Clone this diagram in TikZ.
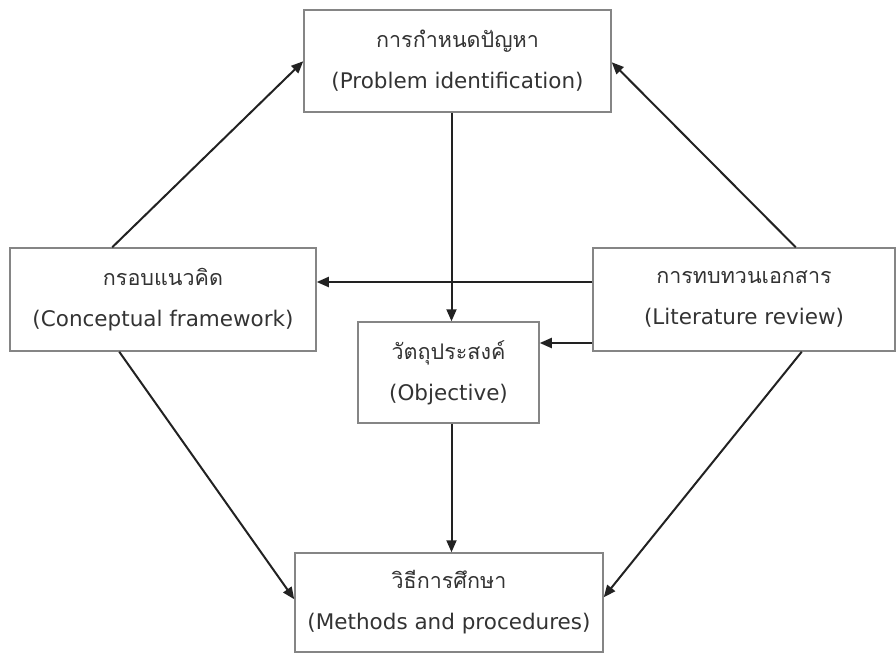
\documentclass[tikz,border=0pt]{standalone}
\usepackage{fontspec}
\setmainfont{DejaVu Sans}
\newfontfamily\thaifont[Script=Thai]{Loma}
\usetikzlibrary{arrows.meta}
\definecolor{boxline}{HTML}{858585}
\definecolor{txt}{HTML}{333333}
\definecolor{arrline}{HTML}{222222}
\tikzset{
  box/.style={draw=boxline, line width=1.5pt, rectangle, inner sep=0pt, align=center,
    text=txt, font=\fontsize{21.5}{41}\selectfont},
  arr/.style={draw=arrline, line width=2pt, -{Triangle[length=12pt,width=10pt]}},
}
\begin{document}
\begin{tikzpicture}[x=1pt,y=-1pt]
\useasboundingbox (0,0) rectangle (896,656);
\node[box, minimum width=307pt, minimum height=102pt] (T) at (457.5,61) {{\thaifont การกำหนดปัญหา}\\(Problem identification)};
\node[box, minimum width=306pt, minimum height=103pt] (L) at (163,299.5) {{\thaifont กรอบแนวคิด}\\(Conceptual framework)};
\node[box, minimum width=181pt, minimum height=101pt] (C) at (448.5,372.5) {{\thaifont วัตถุประสงค์}\\(Objective)};
\node[box, minimum width=302pt, minimum height=103pt] (R) at (744,299.5) {{\thaifont การทบทวนเอกสาร}\\(Literature review)};
\node[box, minimum width=308pt, minimum height=99pt] (B) at (449,602.5) {{\thaifont วิธีการศึกษา}\\(Methods and procedures)};
% connectors
\draw[arr] ([xshift=103pt]L.north west) -- ([yshift=-52pt]T.north west);
\draw[arr] ([xshift=-100pt]R.north east) -- ([yshift=-53pt]T.north east);
\draw[arr] ([xshift=-6pt]T.south) -- ([xshift=-6pt]T.south |- C.north);
\draw[arr] ([yshift=17.5pt]R.west) coordinate (h1) -- (h1 -| L.east);
\draw[arr] ([yshift=-43.5pt]R.west) coordinate (h2) -- (h2 -| C.east);
\draw[arr] ([xshift=3pt]C.south) -- ([xshift=3pt]C.south |- B.north);
\draw[arr] ([xshift=110pt]L.south west) -- ([yshift=-47pt]B.north west);
\draw[arr] ([xshift=-94pt]R.south east) -- ([yshift=-45pt]B.north east);
\end{tikzpicture}
\end{document}
